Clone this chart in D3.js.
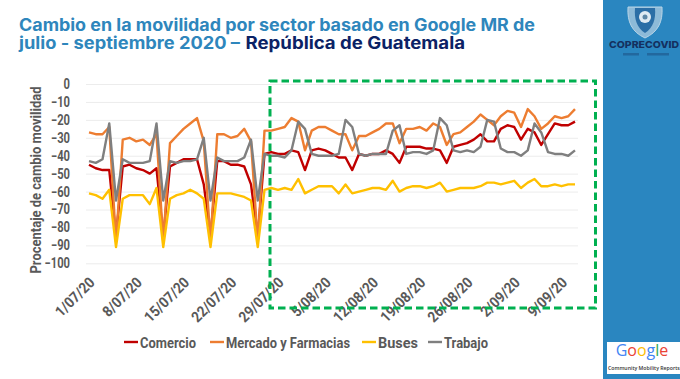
<!DOCTYPE html>
<html>
<head>
<meta charset="utf-8">
<script src="https://cdn.jsdelivr.net/npm/d3@7"></script>
<style>
  html, body { margin: 0; padding: 0; background: #fff; }
  svg { display: block; }
  .lbl { font-family: Roboto, "Liberation Sans", sans-serif; font-weight: 700; fill: #595959; }
</style>
</head>
<body>
<div id="chart-container"></div>
<script>
const tickLabels = ["1/07/20", "8/07/20", "15/07/20", "22/07/20", "29/07/20", "5/08/20", "12/08/20", "19/08/20", "26/08/20", "2/09/20", "9/09/20"];
const yTicks = [0, -10, -20, -30, -40, -50, -60, -70, -80, -90, -100];

const comercio = [-45, -47, -48, -48, -85, -46, -45, -47, -48, -50, -47, -85, -46, -44, -42, -42, -42, -56, -85, -43, -43, -45, -45, -46, -56, -85,
    -39, -38, -39, -39, -37, -38, -48, -37, -36, -37, -39, -41, -41, -48, -39, -40, -39, -39, -37, -39, -44, -35, -35, -35, -36, -36, -37, -44,
    -35, -34, -33, -31, -28, -32, -32, -25, -23, -24, -31, -25, -27, -34, -28, -22, -23, -23, -21];
const mercado = [-27, -28, -28, -24, -88, -31, -30, -32, -31, -34, -28, -88, -33, -29, -25, -22, -19, -32, -88, -28, -28, -30, -29, -25, -32, -88,
    -26, -26, -25, -24, -19, -21, -37, -26, -24, -24, -26, -28, -28, -37, -29, -29, -27, -25, -22, -22, -33, -25, -25, -24, -26, -22, -24, -34,
    -28, -27, -24, -21, -17, -20, -23, -18, -15, -16, -24, -14, -18, -25, -22, -18, -19, -18, -14];
const buses = [-61, -62, -64, -59, -91, -64, -62, -62, -62, -67, -58, -91, -64, -62, -61, -59, -61, -64, -91, -61, -61, -61, -62, -63, -65, -91,
    -59, -58, -59, -58, -59, -53, -61, -59, -57, -57, -57, -61, -56, -61, -60, -59, -58, -58, -59, -54, -60, -58, -57, -57, -58, -57, -55, -60,
    -59, -58, -58, -58, -57, -55, -55, -56, -55, -54, -58, -55, -53, -57, -57, -56, -57, -56, -56];
const trabajo = [-43, -44, -42, -22, -65, -42, -44, -44, -44, -43, -22, -65, -43, -44, -43, -43, -42, -30, -65, -41, -43, -43, -43, -41, -31, -65,
    -39, -40, -40, -41, -37, -21, -25, -39, -40, -40, -40, -39, -20, -24, -39, -40, -39, -39, -39, -26, -23, -39, -38, -38, -39, -37, -19, -23,
    -37, -38, -37, -38, -35, -20, -21, -36, -38, -38, -40, -37, -22, -27, -38, -39, -39, -40, -37];

const seriesNames = ["Comercio", "Mercado y Farmacias", "Buses", "Trabajo"];
const seriesColors = ["#c00000", "#ed7d31", "#ffc000", "#7f7f7f"];
const seriesValues = [comercio, mercado, buses, trabajo];

const width = 680, height = 379;
const margin = { left: 89, right: 105, top: 84, bottom: 115.7 };

const svg = d3.select("#chart-container").append("svg")
    .attr("width", width)
    .attr("height", height);

// side panel
svg.append("rect").attr("x", 603).attr("y", 0).attr("width", 77).attr("height", height).attr("fill", "#2a86c0");

const parseDay = d3.timeParse("%-d/%m/%y");
const firstDay = parseDay(tickLabels[0]);

const scaleX = d3.scaleTime()
    .domain([firstDay, d3.timeDay.offset(firstDay, comercio.length - 1)])
    .range([margin.left, width - margin.right]);

const scaleY = d3.scaleLinear()
    .domain([-100, 0])
    .range([height - margin.bottom, margin.top]);

// grid and y labels
const yAxis = svg.append("g")
    .attr("transform", `translate(${margin.left - 3},0)`)
    .call(d3.axisLeft(scaleY).tickValues(yTicks).tickSize(-492).tickPadding(16));
yAxis.select(".domain").remove();
yAxis.selectAll("line").attr("stroke", "#ececec").attr("stroke-width", 1);
yAxis.selectAll("text")
    .attr("class", "lbl")
    .style("font-size", "14px")
    .attr("transform", function() {
        // narrow the glyphs towards the right edge of the label
        const x = +d3.select(this).attr("x");
        return `translate(${x},0) scale(.8,1) translate(${-x},0)`;
    });

// x labels
const xAxis = svg.append("g")
    .attr("transform", `translate(0,${height - margin.bottom})`)
    .call(d3.axisBottom(scaleX)
        .tickValues(tickLabels.map(parseDay))
        .tickSize(0)
        .tickFormat((d, i) => tickLabels[i]));
xAxis.select(".domain").remove();
xAxis.selectAll("text")
    .attr("class", "lbl")
    .style("font-size", "15px")
    .attr("text-anchor", "end")
    .attr("dx", 0)
    .attr("dy", 0)
    .attr("transform", "translate(4,18) rotate(-45) scale(.9,1)");

svg.append("text")
    .attr("class", "lbl")
    .attr("transform", "translate(41,180) rotate(-90)")
    .attr("text-anchor", "middle")
    .attr("textLength", 187)
    .attr("lengthAdjust", "spacingAndGlyphs")
    .style("font-size", "15px")
    .text("Procentaje de cambio movilidad");

// lines
const lineGen = d3.line()
    .x((d, i) => scaleX(d3.timeDay.offset(firstDay, i)))
    .y(d => scaleY(d));

seriesValues.forEach(function(vals, i) {
    svg.append("path")
        .datum(vals)
        .attr("fill", "none")
        .attr("stroke", seriesColors[i])
        .attr("stroke-width", 2.4)
        .attr("stroke-linejoin", "round")
        .attr("d", lineGen);
});

// green highlight box
svg.append("rect")
    .attr("x", 270).attr("y", 81)
    .attr("width", 325.5).attr("height", 227)
    .attr("fill", "none")
    .attr("stroke", "#00b050")
    .attr("stroke-width", 3)
    .attr("stroke-dasharray", "7.5,4");

// legend
const legendX = [124, 210, 362, 428];
const legendW = [56, 124, 40, 44];
const legend = svg.append("g");
seriesNames.forEach(function(name, i) {
    legend.append("line")
        .attr("x1", legendX[i]).attr("x2", legendX[i] + 14)
        .attr("y1", 342).attr("y2", 342)
        .attr("stroke", seriesColors[i])
        .attr("stroke-width", 2.4);
    legend.append("text")
        .attr("class", "lbl")
        .attr("x", legendX[i] + 16).attr("y", 347.5)
        .attr("textLength", legendW[i])
        .attr("lengthAdjust", "spacingAndGlyphs")
        .style("font-size", "15px")
        .text(name);
});

// title
const title = svg.append("g")
    .style("font-family", "Inter, 'Open Sans', sans-serif")
    .style("font-weight", 700)
    .style("font-size", "17px");
title.append("text").attr("x", 19).attr("y", 31).attr("fill", "#2e86bc")
    .attr("textLength", 516).attr("lengthAdjust", "spacingAndGlyphs")
    .text("Cambio en la movilidad por sector basado en Google MR de");
title.append("text").attr("x", 19).attr("y", 49).attr("fill", "#2e86bc")
    .attr("textLength", 221).attr("lengthAdjust", "spacingAndGlyphs")
    .text("julio - septiembre 2020 \u2013");
title.append("text").attr("x", 245.5).attr("y", 49).attr("fill", "#0b2265")
    .attr("textLength", 219.5).attr("lengthAdjust", "spacingAndGlyphs")
    .text("República de Guatemala");

// COPRECOVID emblem
const emblem = svg.append("g").attr("transform", "translate(645,0)");
emblem.append("path")
    .attr("d", "M-17,7 L17,7 C18,22 13,32 0,38 C-13,32 -18,22 -17,7 Z")
    .attr("fill", "#8dbad8").attr("stroke", "#b9d5e7").attr("stroke-width", 1);
emblem.append("path")
    .attr("d", "M-10,8 L10,8 C11,19 8,28 0,33 C-8,28 -11,19 -10,8 Z")
    .attr("fill", "#2b6ea6");
emblem.append("circle").attr("cy", 17).attr("r", 6).attr("fill", "#dfeaf2");
emblem.append("circle").attr("cy", 17).attr("r", 2.5).attr("fill", "#5d87a6");
svg.append("text")
    .attr("x", 609).attr("y", 48)
    .attr("textLength", 70)
    .attr("lengthAdjust", "spacingAndGlyphs")
    .attr("fill", "#14305f")
    .style("font-family", "Inter, sans-serif")
    .style("font-weight", 800)
    .style("font-size", "9.5px")
    .text("COPRECOVID");
svg.append("rect").attr("x", 623).attr("y", 53).attr("width", 16).attr("height", 2.5).attr("fill", "#14305f").attr("opacity", .35);
svg.append("rect").attr("x", 647).attr("y", 53).attr("width", 22).attr("height", 2.5).attr("fill", "#14305f").attr("opacity", .35);

// Google box
svg.append("rect").attr("x", 607).attr("y", 342).attr("width", 73).attr("height", 32).attr("fill", "#fff");
const googleLetters = ["G", "o", "o", "g", "l", "e"];
const googleColors = ["#4285f4", "#ea4335", "#fbbc05", "#4285f4", "#34a853", "#ea4335"];
const gText = svg.append("text")
    .attr("x", 642).attr("y", 356)
    .attr("text-anchor", "middle")
    .style("font-family", "'Open Sans', sans-serif")
    .style("font-size", "16px");
googleLetters.forEach(function(c, i) {
    gText.append("tspan").attr("fill", googleColors[i]).text(c);
});
svg.append("text")
    .attr("x", 608).attr("y", 370)
    .attr("fill", "#333")
    .style("font-family", "'Open Sans', sans-serif")
    .style("font-weight", 600)
    .style("font-size", "5.2px")
    .text("Community Mobility Reports");
</script>
</body>
</html>
